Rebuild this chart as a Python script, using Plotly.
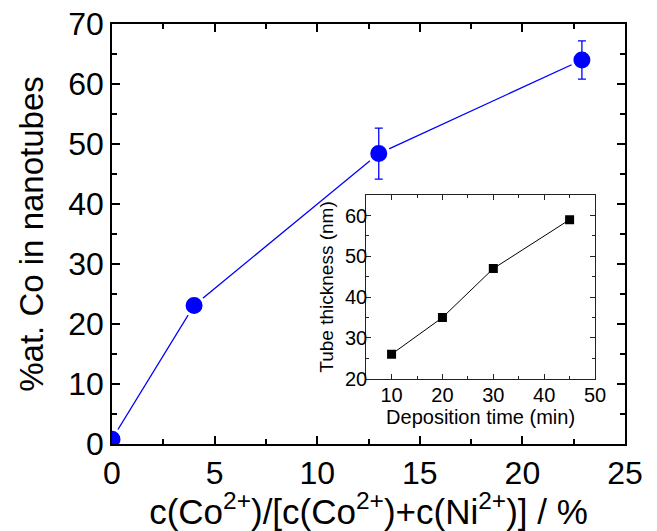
import plotly.graph_objects as go

# Main series: Co content in nanotubes vs. Co2+ fraction in the bath
co_fraction = [0, 4, 13, 22.9]
co_content = [0.8, 23.1, 48.4, 64.0]
co_error = [0, 0, 4.25, 3.2]

# Inset: tube thickness vs. deposition time
dep_time = [10, 20, 30, 45]
thickness = [26, 35, 47, 59]

BLUE = "#0000FF"
FONT = "Liberation Sans, Arial, sans-serif"

fig = go.Figure()

# connecting line
fig.add_trace(go.Scatter(
    x=co_fraction, y=co_content, mode="lines",
    line=dict(color=BLUE, width=1.3), showlegend=False,
    xaxis="x", yaxis="y",
))
# symbols with a white ring so the line stops short of each symbol
fig.add_trace(go.Scatter(
    x=co_fraction, y=co_content, mode="markers",
    marker=dict(symbol="circle", size=20, color=BLUE,
                line=dict(color="white", width=3)),
    showlegend=False, xaxis="x", yaxis="y",
))
# error bars on top
fig.add_trace(go.Scatter(
    x=co_fraction, y=co_content, mode="markers",
    marker=dict(size=1, color="rgba(0,0,0,0)"),
    error_y=dict(type="data", array=co_error, visible=True,
                 color=BLUE, thickness=1.3, width=4),
    showlegend=False, xaxis="x", yaxis="y",
))

# inset series
fig.add_trace(go.Scatter(
    x=dep_time, y=thickness, mode="lines+markers",
    line=dict(color="black", width=1),
    marker=dict(symbol="square", size=9, color="black"),
    showlegend=False, xaxis="x2", yaxis="y2",
))

main_axis = dict(
    showgrid=False, zeroline=False, showline=True, linecolor="black",
    linewidth=1.6, mirror="allticks", ticks="inside", ticklen=8,
    tickwidth=1.5, tickcolor="black", automargin=False,
    tickfont=dict(family=FONT, size=32, color="black"),
)
inset_axis = dict(
    showgrid=False, zeroline=False, showline=True, linecolor="#222",
    linewidth=1, mirror="allticks", ticks="inside", ticklen=5,
    tickwidth=1, tickcolor="#222", automargin=False,
    tickfont=dict(family=FONT, size=20, color="black"),
)

fig.update_layout(
    width=657, height=531,
    margin=dict(l=112, r=32, t=24, b=87),
    paper_bgcolor="white", plot_bgcolor="white",
    font=dict(family=FONT, color="black"),
    xaxis=dict(
        main_axis, domain=[0, 1], range=[0, 25],
        tickvals=[0, 5, 10, 15, 20, 25],
        minor=dict(ticks="inside", ticklen=5, tickwidth=1.5,
                   tickcolor="black", dtick=2.5, tick0=0),
        title=dict(text="c(Co<sup>2+</sup>)/[c(Co<sup>2+</sup>)+c(Ni<sup>2+</sup>)] / %",
                   font=dict(family=FONT, size=35), standoff=2),
    ),
    yaxis=dict(
        main_axis, domain=[0, 1], range=[0, 70],
        tickvals=[0, 10, 20, 30, 40, 50, 60, 70],
        minor=dict(ticks="inside", ticklen=5, tickwidth=1.5,
                   tickcolor="black", dtick=5, tick0=0),
        title=dict(text="%at. Co in nanotubes",
                   font=dict(family=FONT, size=33), standoff=15),
    ),
    xaxis2=dict(
        inset_axis, domain=[0.4954, 0.9416], range=[5, 50], anchor="y2",
        tickvals=[10, 20, 30, 40, 50], ticklabelstandoff=-2,
        minor=dict(ticks="inside", ticklen=3, tickwidth=1,
                   tickcolor="#222", dtick=5, tick0=0),
        title=dict(text="Deposition time (min)",
                   font=dict(family=FONT, size=20), standoff=0),
    ),
    yaxis2=dict(
        inset_axis, domain=[0.1555, 0.5924], range=[20, 65], anchor="x2",
        tickvals=[20, 30, 40, 50, 60], ticklabelstandoff=-6,
        minor=dict(ticks="inside", ticklen=3, tickwidth=1,
                   tickcolor="#222", dtick=5, tick0=0),
        title=dict(text="Tube thickness (nm)",
                   font=dict(family=FONT, size=19), standoff=6),
    ),
)

fig.write_html("out.html")
